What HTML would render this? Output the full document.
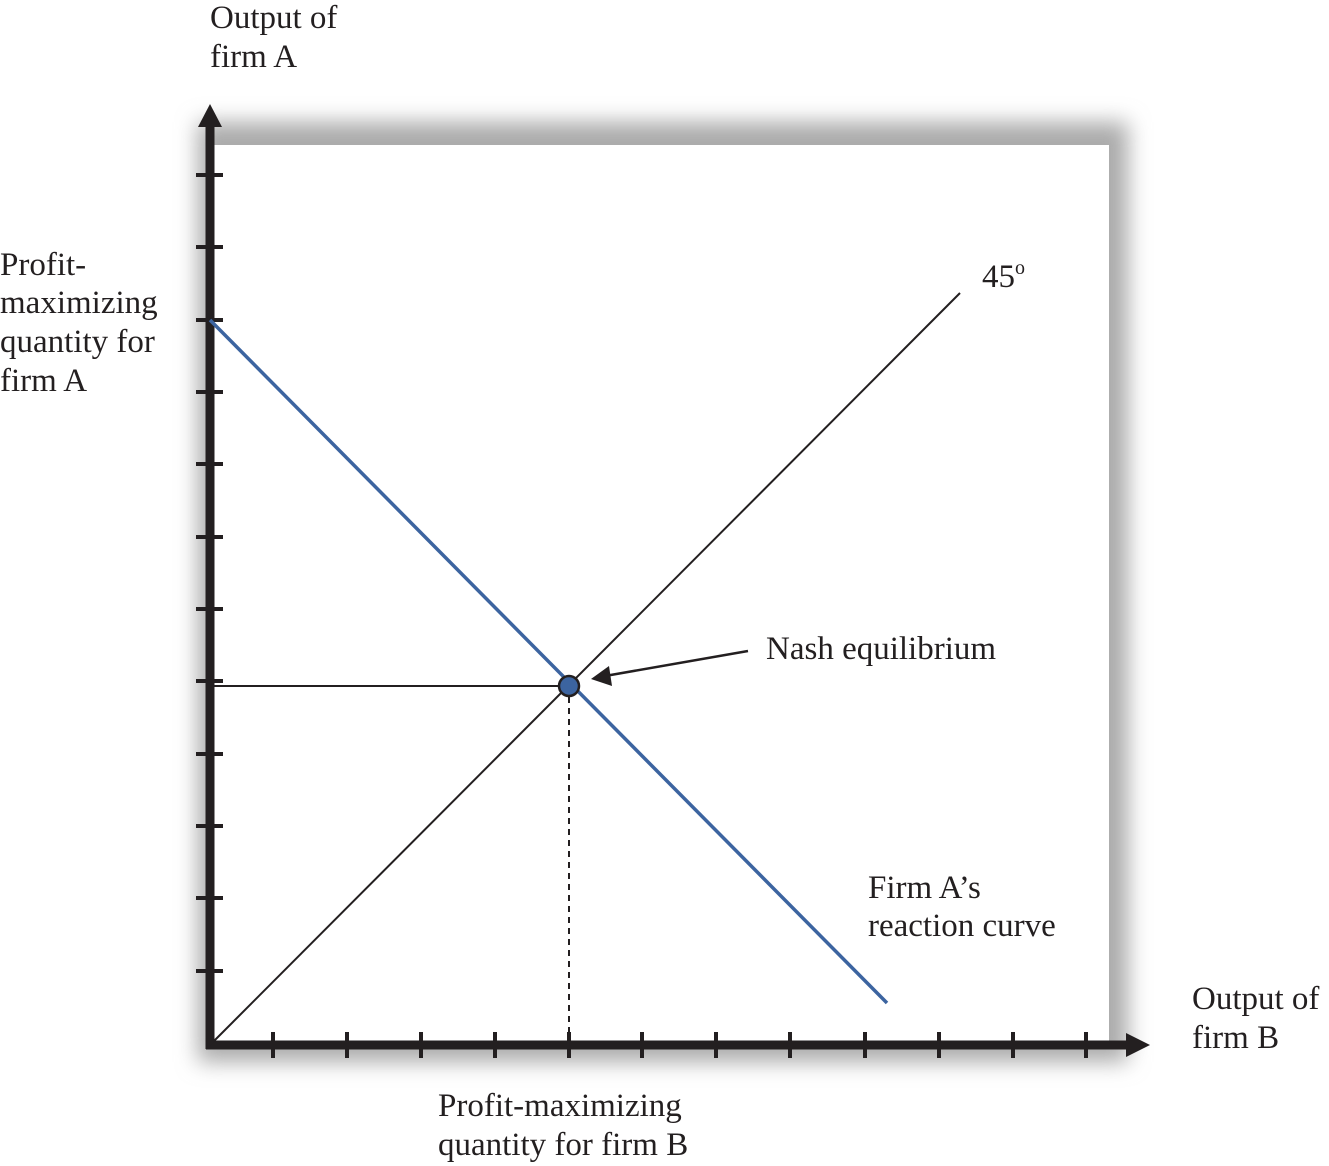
<!DOCTYPE html>
<html><head><style>
html,body{margin:0;padding:0;background:#fff;}
svg{display:block}
text{font-family:"Liberation Serif",serif;font-size:33px;fill:#231f20}
</style></head><body>
<svg width="1329" height="1166" viewBox="0 0 1329 1166" xmlns="http://www.w3.org/2000/svg">
<defs>
<filter id="sh" x="-10%" y="-10%" width="120%" height="120%"><feGaussianBlur stdDeviation="11"/></filter>
</defs>
<rect x="198" y="122" width="930" height="940" fill="#aaa" filter="url(#sh)"/>
<rect x="214" y="145" width="895" height="900" fill="#fff"/>
<!-- axes -->
<line x1="210" y1="120" x2="210" y2="1049" stroke="#231f20" stroke-width="9"/>
<path d="M198,127 L210,104 L222,127z" fill="#231f20"/>
<line x1="206" y1="1045" x2="1132" y2="1045" stroke="#231f20" stroke-width="9"/>
<path d="M1126,1033 L1150,1045 L1126,1057z" fill="#231f20"/>
<g stroke="#231f20" stroke-width="4">
<line x1="196" x2="223" y1="175" y2="175"/><line x1="196" x2="223" y1="247" y2="247"/>
<line x1="196" x2="223" y1="320" y2="320"/><line x1="196" x2="223" y1="392" y2="392"/>
<line x1="196" x2="223" y1="464" y2="464"/><line x1="196" x2="223" y1="537" y2="537"/>
<line x1="196" x2="223" y1="609" y2="609"/><line x1="196" x2="223" y1="681" y2="681"/>
<line x1="196" x2="223" y1="754" y2="754"/><line x1="196" x2="223" y1="826" y2="826"/>
<line x1="196" x2="223" y1="898" y2="898"/><line x1="196" x2="223" y1="971" y2="971"/>
<line y1="1032" y2="1058" x1="273" x2="273"/><line y1="1032" y2="1058" x1="347" x2="347"/>
<line y1="1032" y2="1058" x1="421" x2="421"/><line y1="1032" y2="1058" x1="495" x2="495"/>
<line y1="1032" y2="1058" x1="569" x2="569"/><line y1="1032" y2="1058" x1="642" x2="642"/>
<line y1="1032" y2="1058" x1="716" x2="716"/><line y1="1032" y2="1058" x1="790" x2="790"/>
<line y1="1032" y2="1058" x1="865" x2="865"/><line y1="1032" y2="1058" x1="939" x2="939"/>
<line y1="1032" y2="1058" x1="1013" x2="1013"/><line y1="1032" y2="1058" x1="1086" x2="1086"/>
</g>
<line x1="210" y1="1045" x2="960" y2="293" stroke="#231f20" stroke-width="2"/>
<line x1="212" y1="686" x2="569" y2="686" stroke="#231f20" stroke-width="2"/>
<line x1="569" y1="686" x2="569" y2="1042" stroke="#231f20" stroke-width="2" stroke-dasharray="6,5"/>
<line x1="210" y1="320" x2="887" y2="1003" stroke="#3c64a0" stroke-width="3.5"/>
<circle cx="569" cy="686" r="10" fill="#3c64a0" stroke="#231f20" stroke-width="2.5"/>
<line x1="748" y1="651" x2="605" y2="676" stroke="#231f20" stroke-width="2.5"/>
<path d="M591,679 L609,666 L612,686z" fill="#231f20"/>
<text x="210" y="28">Output of</text>
<text x="210" y="67">firm A</text>
<text x="0" y="275">Profit-</text>
<text x="0" y="313">maximizing</text>
<text x="0" y="352">quantity for</text>
<text x="0" y="391">firm A</text>
<text x="982" y="287">45<tspan font-size="20" dy="-13">o</tspan></text>
<text x="766" y="659">Nash equilibrium</text>
<text x="868" y="898">Firm A’s</text>
<text x="868" y="936">reaction curve</text>
<text x="1192" y="1009">Output of</text>
<text x="1192" y="1048">firm B</text>
<text x="438" y="1116">Profit-maximizing</text>
<text x="438" y="1155">quantity for firm B</text>
</svg>
</body></html>
